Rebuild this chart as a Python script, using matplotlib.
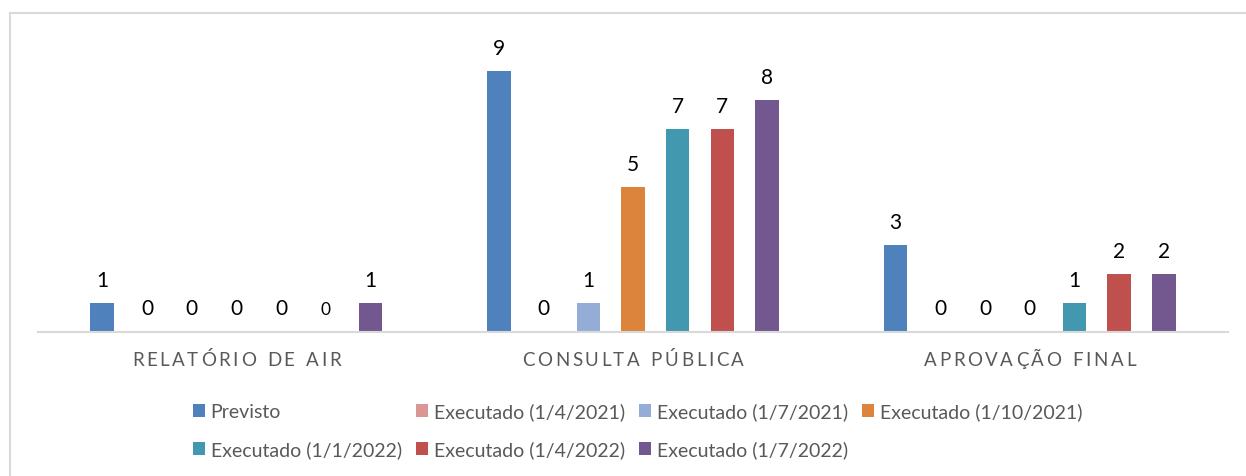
import matplotlib
matplotlib.use("Agg")
import matplotlib.pyplot as plt
from matplotlib.lines import Line2D
from matplotlib.font_manager import FontProperties
import numpy as np

# ---------------- data ----------------
categories = ["RELATÓRIO DE AIR", "CONSULTA PÚBLICA", "APROVAÇÃO FINAL"]
series_names = ["Previsto", "Executado (1/4/2021)", "Executado (1/7/2021)",
                "Executado (1/10/2021)", "Executado (1/1/2022)",
                "Executado (1/4/2022)", "Executado (1/7/2022)"]
previsto = [1, 9, 3]
exec_2021_04 = [0, 0, 0]
exec_2021_07 = [0, 1, 0]
exec_2021_10 = [0, 5, 0]
exec_2022_01 = [0, 7, 1]
exec_2022_04 = [0, 7, 2]
exec_2022_07 = [1, 8, 2]
series_values = [previsto, exec_2021_04, exec_2021_07, exec_2021_10,
                 exec_2022_01, exec_2022_04, exec_2022_07]
colors = ["#4F81BD", "#D99694", "#95ADD6", "#DD843C",
          "#4299AF", "#C0504D", "#72588F"]

# ---------------- figure ----------------
DPI = 100
W, H = 1246, 477
fig = plt.figure(figsize=(W / DPI, H / DPI), dpi=DPI)
FONT = "Lato"

ax_left, ax_right = 38 / W, 1228 / W
ax_bottom = (H - 332.5) / H
ax_top = (H - 43.5) / H
ax = fig.add_axes([ax_left, ax_bottom, ax_right - ax_left, ax_top - ax_bottom])

x = np.arange(len(categories))
slot = 44.7 / 396.7
bar_w = 23.5 / 396.7
n = len(series_names)
handles = []
for i, (name, vals, col) in enumerate(zip(series_names, series_values, colors)):
    xs = x + (i - (n - 1) / 2) * slot
    b = ax.bar(xs, vals, width=bar_w, color=col, label=name, linewidth=0)
    handles.append(b)
    for j, (xx, v) in enumerate(zip(xs, vals)):
        fs = 15
        if j == 0 and i == 5:
            fs = 12.5
        ax.annotate(str(v), xy=(xx, v), xytext=(0, 17 * 72 / DPI),
                    textcoords="offset points", ha="center", va="baseline",
                    fontsize=fs, family=FONT, color="#000000")

ax.set_xlim(-0.5, len(categories) - 0.5)
ax.set_ylim(0, 10)
for s in ["top", "right", "left"]:
    ax.spines[s].set_visible(False)
ax.spines["bottom"].set_color("#D9D9D9")
ax.spines["bottom"].set_linewidth(1.5)
ax.set_yticks([])
ax.set_xticks([])

# category labels with letter spacing
renderer = fig.canvas.get_renderer()
cat_prop = FontProperties(family=FONT, size=13.5)
tracking = 2.6  # px between letters
word_gap = 6.0  # px for a space
for ci, cat in enumerate(categories):
    widths = []
    for ch in cat:
        if ch == " ":
            widths.append(word_gap)
        else:
            w, h, d = renderer.get_text_width_height_descent(ch, cat_prop, ismath=False)
            widths.append(w)
    total = sum(widths) + tracking * (len(cat) - 1)
    pos = -total / 2
    for ch, w in zip(cat, widths):
        if ch != " ":
            ax.annotate(ch, xy=(x[ci], 0), xytext=(pos * 72 / DPI, -28 * 72 / DPI),
                        textcoords="offset points", ha="left", va="center",
                        fontproperties=cat_prop, color="#595959")
        pos += w + tracking

# legend (row-wise order)
order = [0, 4, 1, 5, 2, 6, 3]
leg = fig.legend([handles[k] for k in order], [series_names[k] for k in order],
                 loc="center", bbox_to_anchor=(637.5 / W, (H - 431.5) / H),
                 ncol=4, frameon=False, prop=FontProperties(family=FONT, size=14),
                 handlelength=0.62, handleheight=0.62, handletextpad=0.3,
                 columnspacing=0.72, labelspacing=1.05, borderpad=0, borderaxespad=0)
for t in leg.get_texts():
    t.set_color("#595959")

# chart frame (partially visible)
fig.add_artist(Line2D([9.5 / W, 1.0], [(H - 14) / H, (H - 14) / H],
                      transform=fig.transFigure, color="#D9D9D9", linewidth=1.5))
fig.add_artist(Line2D([9.5 / W, 9.5 / W], [0, (H - 14) / H],
                      transform=fig.transFigure, color="#D9D9D9", linewidth=1.5))

fig.savefig("out.png", dpi=DPI, facecolor="white")
